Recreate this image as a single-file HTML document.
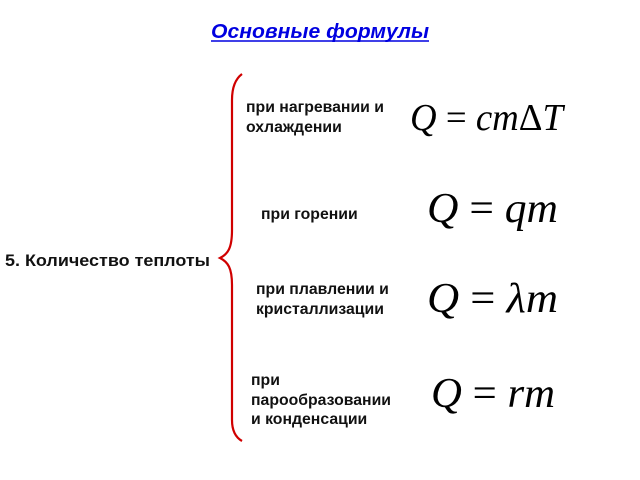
<!DOCTYPE html>
<html><head><meta charset="utf-8"><style>
html,body{margin:0;padding:0;background:#fff}
svg{display:block}
.l{font-family:"Liberation Sans",sans-serif;font-weight:bold;font-size:15.8px;fill:#111}
.f{font-family:"Liberation Serif",serif;font-size:42px;fill:#000}
</style></head><body>
<svg width="640" height="480" viewBox="0 0 640 480">
<text x="320" y="38" text-anchor="middle" textLength="218" lengthAdjust="spacingAndGlyphs" style="font-family:'Liberation Sans',sans-serif;font-weight:bold;font-style:italic;font-size:20px;fill:#0000e0">Основные формулы</text>
<line x1="211" y1="41" x2="429" y2="41" stroke="#0000e0" stroke-width="1.5"/>
<text x="5" y="266" class="l" textLength="205" lengthAdjust="spacingAndGlyphs" style="font-size:17px">5. Количество теплоты</text>
<path d="M242,74 C234,80 232,90 232,100 L232,230 C232,248 228,254 220,258 C228,262 232,268 232,285 L232,420 C232,430 235,437 242,441" fill="none" stroke="#d00000" stroke-width="2.2"/>
<text x="246" y="112" class="l">при нагревании и</text>
<text x="246" y="132" class="l">охлаждении</text>
<text x="261" y="219" class="l">при горении</text>
<text x="256" y="294" class="l">при плавлении и</text>
<text x="256" y="314" class="l">кристаллизации</text>
<text x="251" y="385" class="l">при</text>
<text x="251" y="405" class="l">парообразовании</text>
<text x="251" y="424" class="l">и конденсации</text>
<text x="410" y="130" class="f" style="font-size:38px" textLength="153" lengthAdjust="spacingAndGlyphs"><tspan font-style="italic">Q</tspan> = <tspan font-style="italic">cm</tspan>Δ<tspan font-style="italic">T</tspan></text>
<text x="427" y="222" class="f" textLength="131" lengthAdjust="spacingAndGlyphs"><tspan font-style="italic">Q</tspan> = <tspan font-style="italic">qm</tspan></text>
<text x="427" y="312" class="f" textLength="131" lengthAdjust="spacingAndGlyphs"><tspan font-style="italic">Q</tspan> = <tspan font-style="italic">λm</tspan></text>
<text x="431" y="407" class="f" textLength="124" lengthAdjust="spacingAndGlyphs"><tspan font-style="italic">Q</tspan> = <tspan font-style="italic">rm</tspan></text>
</svg>
</body></html>
